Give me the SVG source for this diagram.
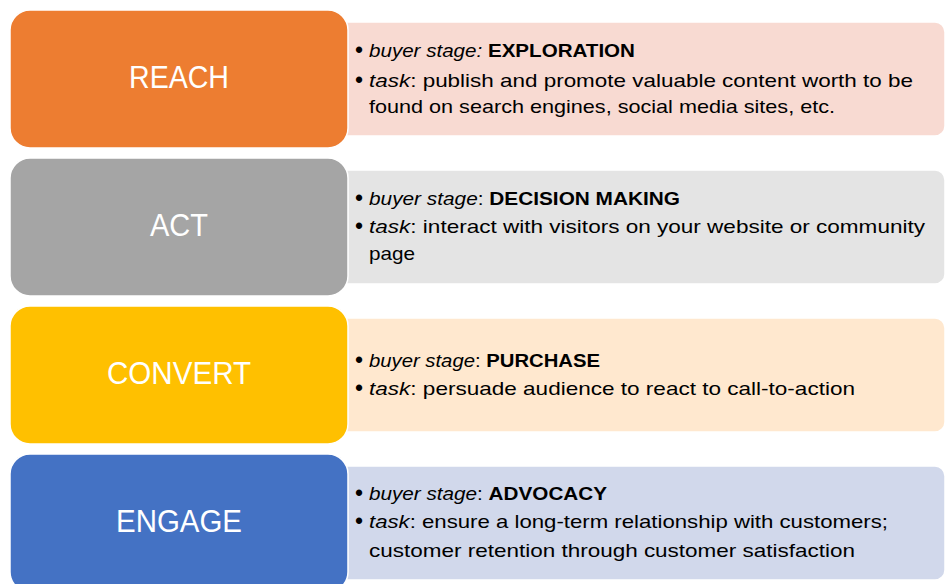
<svg xmlns="http://www.w3.org/2000/svg" width="946" height="584" viewBox="0 0 946 584">
<style>
.det{stroke:#ffffff;stroke-width:1.5}
.ttl{stroke:#ffffff;stroke-width:1.5}
.tt{font-family:"Liberation Sans",Arial,sans-serif;font-size:32px;fill:#ffffff;text-anchor:middle}
.tx{font-family:"Liberation Sans",Arial,sans-serif;font-size:18.5px;fill:#000000}
.bu{font-family:"Liberation Sans",Arial,sans-serif;font-size:23px;fill:#000000}
.i{font-style:italic}
.b{font-weight:bold}
</style>
<rect width="946" height="584" fill="#ffffff"/>
<g id="reach">
<rect class="det" x="330" y="22" width="615" height="114" rx="10" fill="#F8DAD2"/>
<rect class="ttl" x="10" y="10" width="338" height="138" rx="20" fill="#ED7D31"/>
<text class="tt" x="179" y="88" textLength="100" lengthAdjust="spacingAndGlyphs">REACH</text>
<text class="bu" x="355" y="58">•</text>
<text class="tx" x="369" y="57" textLength="266" lengthAdjust="spacingAndGlyphs"><tspan class="i">buyer stage: </tspan><tspan class="b">EXPLORATION</tspan></text>
<text class="bu" x="355" y="88">•</text>
<text class="tx" x="369" y="87" textLength="544" lengthAdjust="spacingAndGlyphs"><tspan class="i">task</tspan>: publish and promote valuable content worth to be</text>
<text class="tx" x="369" y="113" textLength="466" lengthAdjust="spacingAndGlyphs">found on search engines, social media sites, etc.</text>
</g>
<g id="act">
<rect class="det" x="330" y="170" width="615" height="114" rx="10" fill="#E4E4E4"/>
<rect class="ttl" x="10" y="158" width="338" height="138" rx="20" fill="#A5A5A5"/>
<text class="tt" x="179" y="236" textLength="58" lengthAdjust="spacingAndGlyphs">ACT</text>
<text class="bu" x="355" y="206">•</text>
<text class="tx" x="369" y="205" textLength="311" lengthAdjust="spacingAndGlyphs"><tspan class="i">buyer stage</tspan>: <tspan class="b">DECISION MAKING</tspan></text>
<text class="bu" x="355" y="234">•</text>
<text class="tx" x="369" y="233" textLength="556" lengthAdjust="spacingAndGlyphs"><tspan class="i">task</tspan>: interact with visitors on your website or community</text>
<text class="tx" x="369" y="260" textLength="46" lengthAdjust="spacingAndGlyphs">page</text>
</g>
<g id="convert">
<rect class="det" x="330" y="318" width="615" height="114" rx="10" fill="#FFE8CF"/>
<rect class="ttl" x="10" y="306" width="338" height="138" rx="20" fill="#FFC000"/>
<text class="tt" x="179" y="384" textLength="144" lengthAdjust="spacingAndGlyphs">CONVERT</text>
<text class="bu" x="355" y="368">•</text>
<text class="tx" x="369" y="367" textLength="231" lengthAdjust="spacingAndGlyphs"><tspan class="i">buyer stage</tspan>: <tspan class="b">PURCHASE</tspan></text>
<text class="bu" x="355" y="396">•</text>
<text class="tx" x="369" y="395" textLength="486" lengthAdjust="spacingAndGlyphs"><tspan class="i">task</tspan>: persuade audience to react to call-to-action</text>
</g>
<g id="engage">
<rect class="det" x="330" y="466" width="615" height="114" rx="10" fill="#D1D8EB"/>
<rect class="ttl" x="10" y="454" width="338" height="138" rx="20" fill="#4472C4"/>
<text class="tt" x="179" y="532" textLength="126" lengthAdjust="spacingAndGlyphs">ENGAGE</text>
<text class="bu" x="355" y="501">•</text>
<text class="tx" x="369" y="500" textLength="238" lengthAdjust="spacingAndGlyphs"><tspan class="i">buyer stage</tspan>: <tspan class="b">ADVOCACY</tspan></text>
<text class="bu" x="355" y="529">•</text>
<text class="tx" x="369" y="528" textLength="519" lengthAdjust="spacingAndGlyphs"><tspan class="i">task</tspan>: ensure a long-term relationship with customers;</text>
<text class="tx" x="369" y="557" textLength="486" lengthAdjust="spacingAndGlyphs">customer retention through customer satisfaction</text>
</g>
<g id="connectors"/>
</svg>
